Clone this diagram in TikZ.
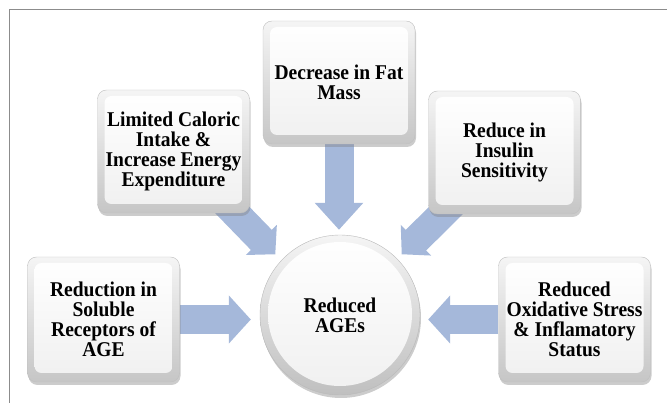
\documentclass[tikz,border=0pt]{standalone}
\usepackage{fontspec}
\setmainfont{Liberation Serif}[BoldFont={Liberation Serif Bold},FakeStretch=0.93]
\usetikzlibrary{arrows.meta,shadows,backgrounds}
\definecolor{flowblue}{HTML}{A5B8DA}
\definecolor{framegray}{HTML}{8C8C8C}
\begin{document}
\begin{tikzpicture}[x=1pt,y=-1pt,
  bevel/.style={rounded corners=9pt,draw=gray!50,top color=gray!8,bottom color=gray!45,
    minimum width=152pt,minimum height=123pt,align=center,text=black,
    font=\fontsize{21pt}{20pt}\selectfont\bfseries,
    drop shadow={opacity=0.4,shadow xshift=1pt,shadow yshift=-3pt},
    path picture={\shade[rounded corners=7pt,top color=white,bottom color=gray!12]
      ([shift={(7pt,-6pt)}]path picture bounding box.north west) rectangle
      ([shift={(-7pt,9pt)}]path picture bounding box.south east);}},
  ball/.style={circle,minimum size=160pt,draw=gray!55,top color=gray!8,bottom color=gray!50,
    align=center,text=black,font=\fontsize{21pt}{20pt}\selectfont\bfseries,
    drop shadow={opacity=0.4,shadow xshift=1pt,shadow yshift=-3pt},
    path picture={\shade[top color=white,bottom color=gray!12]
      ([yshift=1pt]path picture bounding box.center) circle (72pt);}},
  flow/.style={line width=29pt,draw=flowblue,-{Triangle[length=22pt,width=47pt]}}]
\useasboundingbox (0,0) rectangle (667,403);
\draw[framegray,line width=1pt](9,403)--(9,9.5)--(667,9.5);
\node[bevel](fat) at (339,82.5){Decrease in Fat\\Mass};
\node[bevel](caloric) at (173.5,151.5){Limited Caloric\\Intake \&\\Increase Energy\\Expenditure};
\node[bevel](insulin) at (504.5,152.5){Reduce in\\Insulin\\Sensitivity};
\node[bevel,minimum height=125pt](soluble) at (103.5,319.5){Reduction in\\Soluble\\Receptors of\\AGE};
\node[bevel,minimum height=125pt](oxid) at (574.5,319.5){Reduced\\Oxidative Stress\\\& Inflamatory\\Status};
\node[ball](ages) at (340,315){Reduced\\AGEs};
\begin{scope}[on background layer]
\draw[flow,shorten >=5pt,-{Triangle[length=27pt,width=47pt]}](fat)--(fat|-ages.north);
\draw[flow,-{Triangle[length=20pt,width=42pt]}]([shift={(-24pt,10pt)}]caloric.south east)--([shift={(-8pt,4pt)}]ages.north west);
\draw[flow,-{Triangle[length=20pt,width=42pt]}]([shift={(24pt,10pt)}]insulin.south west)--([shift={(5pt,4pt)}]ages.north east);
\draw[flow,shorten >=9pt](soluble)--(soluble-|ages.west);
\draw[flow,shorten >=8pt](oxid)--(oxid-|ages.east);
\end{scope}
\end{tikzpicture}
\end{document}
